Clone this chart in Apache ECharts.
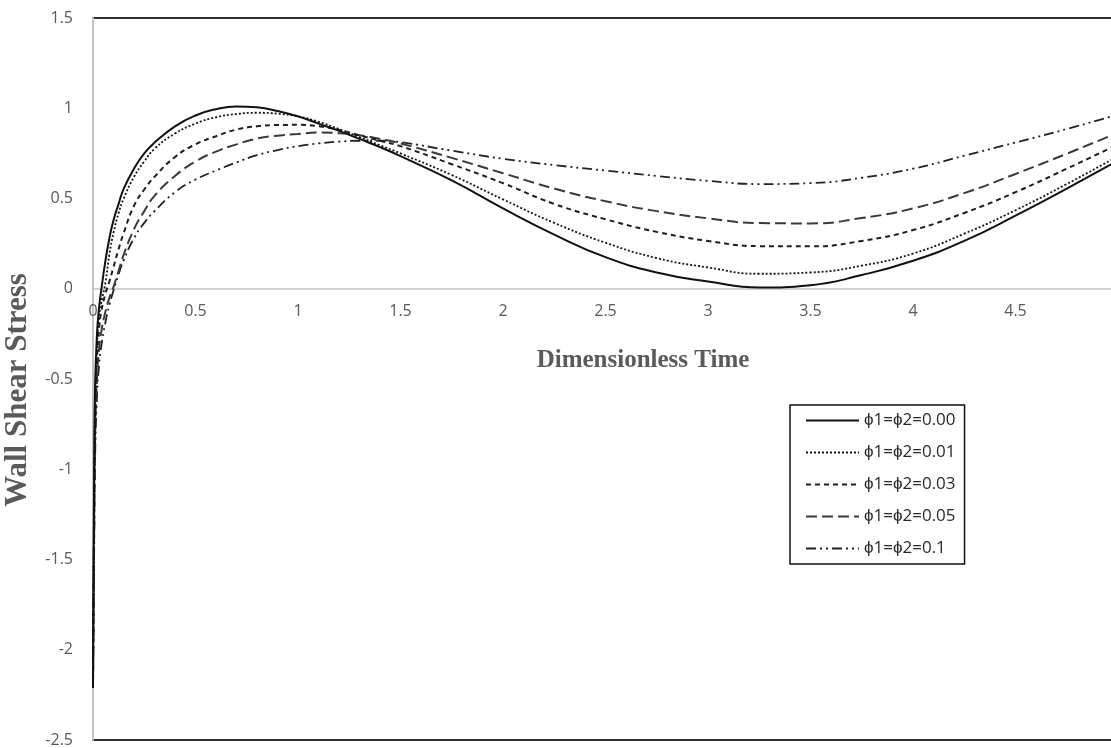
<!DOCTYPE html>
<html>
<head>
<meta charset="utf-8">
<script src="https://cdn.jsdelivr.net/npm/echarts@6/dist/echarts.min.js"></script>
<style>
html,body{margin:0;padding:0;background:#fff;}
#chart{width:1111px;height:748px;}
</style>
</head>
<body>
<div id="chart"></div>
<script>
// Dimensionless time samples (shared by all series)
var timeValues = [0, 0.003, 0.006, 0.01, 0.02, 0.03, 0.04, 0.06, 0.08, 0.1, 0.125, 0.15, 0.2, 0.25, 0.3, 0.4, 0.5, 0.6, 0.7, 0.8, 0.9, 1.0, 1.1, 1.2, 1.3, 1.4, 1.5, 1.75, 2.0, 2.25, 2.5, 2.75, 3.0, 3.25, 3.5, 3.75, 4.0, 4.25, 4.5, 4.75, 5.0];

var seriesNames = ['\u03D51=\u03D52=0.00', '\u03D51=\u03D52=0.01', '\u03D51=\u03D52=0.03', '\u03D51=\u03D52=0.05', '\u03D51=\u03D52=0.1'];

var phi000 = [-2.21, -1.5, -1.0, -0.55, -0.24, -0.1, -0.01, 0.15, 0.28, 0.38, 0.47, 0.555, 0.665, 0.75, 0.81, 0.9, 0.96, 0.995, 1.01, 1.005, 0.985, 0.955, 0.915, 0.875, 0.83, 0.785, 0.735, 0.6, 0.445, 0.3, 0.175, 0.09, 0.04, 0.007, 0.02, 0.076, 0.155, 0.265, 0.405, 0.555, 0.71];
var phi001 = [-2.21, -1.6, -1.1, -0.65, -0.3, -0.16, -0.08, 0.03, 0.19, 0.31, 0.42, 0.5, 0.62, 0.705, 0.775, 0.86, 0.915, 0.95, 0.968, 0.975, 0.97, 0.955, 0.925, 0.885, 0.84, 0.795, 0.75, 0.63, 0.495, 0.365, 0.255, 0.17, 0.118, 0.083, 0.09, 0.128, 0.195, 0.305, 0.435, 0.58, 0.735];
var phi003 = [-2.21, -1.65, -1.2, -0.75, -0.38, -0.22, -0.13, -0.03, 0.04, 0.12, 0.22, 0.31, 0.46, 0.55, 0.62, 0.73, 0.8, 0.845, 0.882, 0.9, 0.907, 0.908, 0.9, 0.88, 0.85, 0.82, 0.79, 0.69, 0.585, 0.47, 0.385, 0.315, 0.265, 0.236, 0.235, 0.265, 0.325, 0.42, 0.535, 0.665, 0.8];
var phi005 = [-2.21, -1.7, -1.3, -0.85, -0.48, -0.33, -0.24, -0.13, -0.05, 0.01, 0.1, 0.19, 0.33, 0.43, 0.515, 0.625, 0.705, 0.76, 0.8, 0.832, 0.848, 0.858, 0.865, 0.862, 0.85, 0.83, 0.805, 0.725, 0.64, 0.555, 0.485, 0.43, 0.39, 0.364, 0.362, 0.392, 0.445, 0.53, 0.636, 0.748, 0.865];
var phi010 = [-2.21, -1.75, -1.4, -0.95, -0.58, -0.42, -0.32, -0.19, -0.09, -0.01, 0.08, 0.16, 0.28, 0.365, 0.43, 0.535, 0.605, 0.655, 0.7, 0.74, 0.768, 0.79, 0.805, 0.815, 0.82, 0.82, 0.812, 0.765, 0.72, 0.685, 0.655, 0.625, 0.598, 0.58, 0.585, 0.615, 0.665, 0.737, 0.81, 0.885, 0.965];

var seriesValues = [phi000, phi001, phi003, phi005, phi010];
var lineTypes = ['solid', [2, 2], [5, 4], [11, 5], [10, 4, 2, 4, 2, 4]];
var lineColors = ['#111111', '#151515', '#1e1e1e', '#3a3a3a', '#222222'];
var lineWidths = [2, 1.8, 2, 2, 1.8];

var Y_MIN = -2.5, Y_MAX = 1.5;
var GRID_TOP = 18, GRID_HEIGHT = 722;

function pairs(vals) {
  return timeValues.map(function (t, i) { return [t, vals[i]]; });
}

var chart = echarts.init(document.getElementById('chart'), null, {renderer: 'canvas'});

var series = seriesValues.map(function (vals, k) {
  return {
    name: seriesNames[k],
    type: 'line',
    data: pairs(vals),
    showSymbol: false,
    symbol: 'none',
    smooth: 0.5,
    clip: true,
    lineStyle: {color: lineColors[k], width: lineWidths[k], type: lineTypes[k]},
    itemStyle: {color: lineColors[k]},
    z: 10 - k
  };
});

// x axis sits on the y = 0 line: distance from the grid's bottom edge to zero
var zeroOffset = -GRID_HEIGHT * (0 - Y_MIN) / (Y_MAX - Y_MIN);

var labelFont = {color: '#595959', fontSize: 16, fontFamily: '"Open Sans", sans-serif'};

chart.setOption({
  animation: false,
  backgroundColor: '#ffffff',
  grid: {
    left: 93, top: GRID_TOP, width: 1025, height: GRID_HEIGHT,
    outerBoundsMode: 'none', containLabel: false,
    show: true, borderColor: '#2e2e2e', borderWidth: 2, backgroundColor: 'transparent'
  },
  xAxis: {
    type: 'value', min: 0, max: 5, interval: 0.5,
    position: 'bottom', offset: zeroOffset,
    axisLine: {show: true, onZero: false, lineStyle: {color: '#c4c4c4', width: 1.5}},
    axisTick: {show: false},
    splitLine: {show: false},
    axisLabel: Object.assign({margin: 15, showMaxLabel: true, hideOverlap: false}, labelFont)
  },
  yAxis: {
    type: 'value', min: Y_MIN, max: Y_MAX, interval: 0.5,
    axisLine: {show: true, lineStyle: {color: '#c4c4c4', width: 2}},
    axisTick: {show: false},
    splitLine: {show: false},
    axisLabel: Object.assign({margin: 20}, labelFont)
  },
  legend: {
    orient: 'vertical',
    left: 790, top: 405,
    padding: [7, 9, 7, 15],
    itemWidth: 53, itemHeight: 14, itemGap: 15,
    borderColor: '#111', borderWidth: 1.5,
    backgroundColor: '#ffffff',
    itemStyle: {opacity: 0},
    textStyle: {color: '#2a2a2a', fontSize: 17, fontFamily: '"Open Sans", sans-serif'},
    data: seriesNames
  },
  graphic: [
    {
      type: 'text', x: 643, y: 361,
      style: {text: 'Dimensionless Time', textAlign: 'center', textVerticalAlign: 'middle',
        font: 'bold 25px "Liberation Serif", serif', fill: '#5a5a5a'}
    },
    {
      type: 'text', x: 18, y: 390, rotation: Math.PI / 2,
      style: {text: 'Wall Shear Stress', textAlign: 'center', textVerticalAlign: 'middle',
        font: 'bold 31px "Liberation Serif", serif', fill: '#5a5a5a'}
    }
  ],
  series: series
});
</script>
</body>
</html>
